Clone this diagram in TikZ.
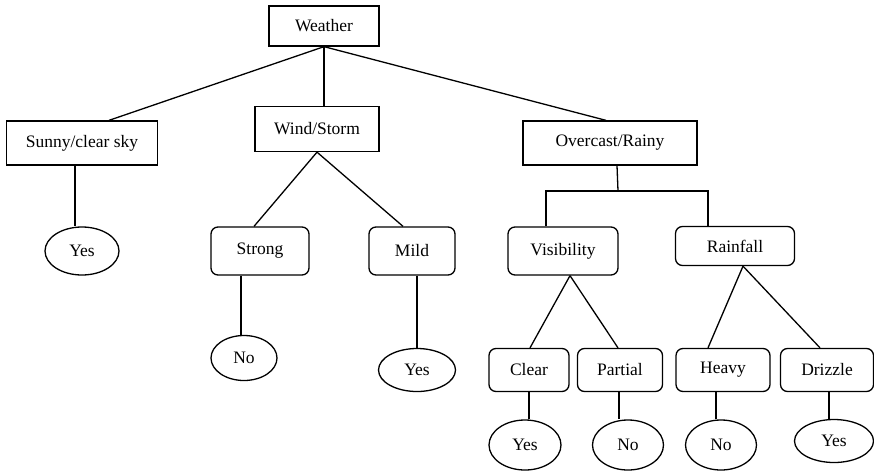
\documentclass[tikz,border=0pt]{standalone}
\usepackage{fontspec}
\setmainfont{Liberation Serif}
\usetikzlibrary{shapes.geometric}

\begin{document}
\begin{tikzpicture}[%
    x=1pt, y=-1pt,
    every node/.style={%
        font=\fontsize{17.5}{20}\selectfont,
        line width=1.3pt,
        inner sep=0pt
    },
    rootbox/.style={%
        draw,
        rectangle,
        minimum height=44pt
    },
    attrbox/.style={%
        draw,
        rectangle,
        rounded corners=7pt,
        minimum height=43pt
    },
    leaf/.style={%
        draw,
        ellipse,
        minimum height=46pt
    },
    line width=1.3pt
]
\useasboundingbox (0,0) rectangle (874,471);

% Root
    \node[rootbox, minimum width=110pt, minimum height=40pt] (weather) at (324,26) {Weather};

% First level
    \node[rootbox, minimum width=151pt] (sunny) at (82,143) {Sunny/clear sky};
    \node[rootbox, minimum width=124pt, minimum height=45pt] (wind) at (317,129) {Wind/Storm};
    \node[rootbox, minimum width=174pt] (overcast) at (610,143) {Overcast/Rainy};

% Second level
    \node[leaf, minimum width=74pt, minimum height=48pt] (yes1) at (82,251) {Yes};
    \node[attrbox, minimum width=98pt, minimum height=48pt] (strong) at (260,251) {Strong};
    \node[attrbox, minimum width=86pt, minimum height=48pt] (mild) at (412,251) {Mild};
    \node[attrbox, minimum width=110pt, minimum height=48pt] (visibility) at (563,251) {Visibility};
    \node[attrbox, minimum width=119pt, minimum height=39pt] (rainfall) at (735,246) {Rainfall};

% Third level
    \node[leaf, minimum width=66pt, minimum height=45pt] (no1) at (244,358) {No};
    \node[leaf, minimum width=77pt, minimum height=43pt] (yes2) at (417,370) {Yes};
    \node[attrbox, minimum width=80pt] (clear) at (529,370) {Clear};
    \node[attrbox, minimum width=85pt] (partial) at (620,370) {Partial};
    \node[attrbox, minimum width=94pt] (heavy) at (723,370) {Heavy};
    \node[attrbox, minimum width=93pt] (drizzle) at (827,370) {Drizzle};

% Leaves
    \node[leaf, minimum width=72pt, minimum height=50pt] (yes3) at (525,445) {Yes};
    \node[leaf, minimum width=71pt, minimum height=50pt] (no2) at (628,445) {No};
    \node[leaf, minimum width=71pt, minimum height=50pt] (no3) at (721,445) {No};
    \node[leaf, minimum width=79pt, minimum height=43pt] (yes4) at (834,441) {Yes};

    \coordinate (split) at (618,191);

% Edges
\draw (weather.south) -- ([xshift=27pt]sunny.north);
\draw (weather.south) -- (weather.south |- wind.north);
\draw (weather.south) -- ([xshift=-4pt]overcast.north);

\draw ([xshift=-7pt]sunny.south) -- ([xshift=-7pt]yes1.north);

\draw (wind.south) -- ([xshift=-6pt]strong.north);
\draw (wind.south) -- ([xshift=-9pt]mild.north);
\draw ([xshift=-19pt]strong.south) -- ([xshift=-3pt]no1.north);
\draw ([xshift=5pt]mild.south) -- (yes2.north);

\draw ([xshift=7pt]overcast.south) -- (split);
\draw ([xshift=-17pt]visibility.north) |- (split) -| ([xshift=-27pt]rainfall.north);

\draw ([xshift=7pt]visibility.south) -- ([xshift=1pt]clear.north);
\draw ([xshift=7pt]visibility.south) -- ([xshift=-2pt]partial.north);
\draw ([xshift=8pt]rainfall.south) -- ([xshift=-15pt]heavy.north);
\draw ([xshift=8pt]rainfall.south) -- ([xshift=-7pt]drizzle.north);

\draw (clear.south) -- ([xshift=4pt]yes3.north);
\draw ([xshift=-1pt]partial.south) -- ([xshift=-9pt]no2.north);
\draw ([xshift=-7pt]heavy.south) -- ([xshift=-5pt]no3.north);
\draw ([xshift=2pt]drizzle.south) -- ([xshift=-5pt]yes4.north);

\end{tikzpicture}
\end{document}
